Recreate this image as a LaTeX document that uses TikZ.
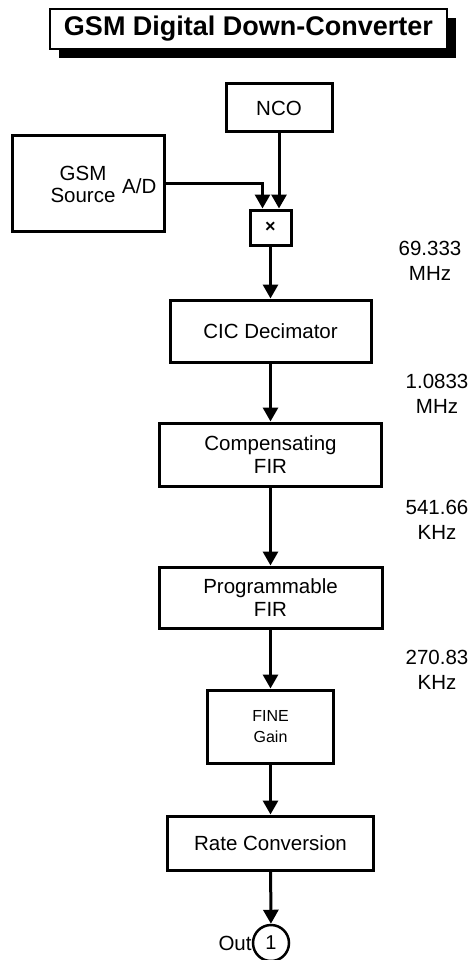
\documentclass[tikz,border=0pt]{standalone}
\usepackage{fontspec}
\setmainfont{Liberation Sans}
\usetikzlibrary{arrows.meta,positioning,shadows}

\begin{document}
\begin{tikzpicture}[x=1pt,y=-1pt]
\tikzset{
  blocknode/.style={rectangle,draw=black,line width=3pt,fill=white,inner sep=0pt,align=center,font=\fontsize{20.5}{23}\selectfont},
  titlenode/.style={rectangle,draw=black,line width=2.5pt,fill=white,inner sep=0pt,font=\bfseries\fontsize{27}{30}\selectfont,
    drop shadow={shadow xshift=9pt,shadow yshift=-9pt,fill=black,opacity=1}},
  ratenode/.style={inner sep=0pt,align=center,font=\fontsize{20.5}{25}\selectfont},
  textnode/.style={inner sep=0pt,align=center,font=\fontsize{20.5}{22}\selectfont},
  flowedge/.style={draw=black,line width=3pt,-{Triangle[length=14pt,width=15pt]}}
}
\useasboundingbox (0,0) rectangle (472,960);
% title
\node[titlenode,minimum width=397pt,minimum height=40pt] (n_title) at (248.5,29) {GSM Digital Down-Converter};
% sources
\node[blocknode,minimum width=106pt,minimum height=48pt] (n_nco) at (279,108) {NCO};
\node[blocknode,minimum width=152pt,minimum height=95pt] (n_gsm) at (88,183.5) {};
\node[textnode] (n_gsmlbl) at (83,184) {GSM\\Source};
\node[textnode,anchor=east] (n_ad) at ([xshift=-9pt,yshift=-3pt]n_gsm.east) {A/D};
\node[blocknode,minimum width=41pt,minimum height=35pt,font=\bfseries\fontsize{18}{18}\selectfont] (n_mult) at (270.5,227.5) {×};
% chain
\node[blocknode,minimum width=201pt,minimum height=62pt] (n_cic) at (270.5,331) {CIC Decimator};
\node[blocknode,minimum width=222pt,minimum height=63pt] (n_comp) at (270.5,454.5) {Compensating\\FIR};
\node[blocknode,minimum width=223pt,minimum height=61pt] (n_prog) at (270.5,597.5) {Programmable\\FIR};
\node[blocknode,minimum width=126pt,minimum height=73pt,font=\fontsize{16}{21}\selectfont] (n_gain) at (270.5,726.5) {FINE\\Gain};
\node[blocknode,minimum width=206pt,minimum height=54pt] (n_rate) at (270.5,843) {Rate Conversion};
\node[circle,draw=black,line width=2.5pt,fill=white,minimum size=36pt,inner sep=0pt,font=\fontsize{20}{20}\selectfont] (n_out) at (271,943) {1};
\node[textnode,anchor=east] (n_outlbl) at (n_out.west) {Out};
% sample rates
\node[ratenode] (n_r0) at (430,260.5) {69.333\\MHz};
\node[ratenode] (n_r1) at (437,393.5) {1.0833\\MHz};
\node[ratenode] (n_r2) at (437,519.5) {541.66\\KHz};
\node[ratenode] (n_r3) at (437,669.5) {270.83\\KHz};
% connections
\draw[flowedge] (n_gsm.east) -| ([xshift=-8pt]n_mult.north);
\draw[flowedge] (n_nco.south) -- (n_nco.south |- n_mult.north);
\draw[flowedge] (n_mult) -- (n_cic);
\draw[flowedge] (n_cic) -- (n_comp);
\draw[flowedge] (n_comp) -- (n_prog);
\draw[flowedge] (n_prog) -- (n_gain);
\draw[flowedge] (n_gain) -- (n_rate);
\draw[flowedge] (n_rate) -- (n_out);
\end{tikzpicture}
\end{document}
